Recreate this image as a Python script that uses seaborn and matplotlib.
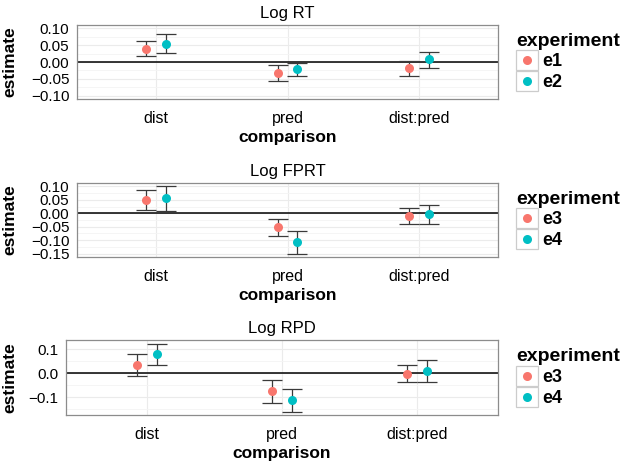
import numpy as np
import pandas as pd
import matplotlib
matplotlib.use("Agg")
import matplotlib.pyplot as plt
import seaborn as sns
from matplotlib.lines import Line2D
from matplotlib.patches import Rectangle
from matplotlib.legend_handler import HandlerBase

comparisons = ["dist", "pred", "dist:pred"]
colors = ["#F8766D", "#00BFC4"]

# Log RT (e1, e2)
rt_e1_est = [0.040, -0.034, -0.019]
rt_e1_lo = [0.017, -0.056, -0.042]
rt_e1_hi = [0.062, -0.010, 0.004]
rt_e2_est = [0.055, -0.020, 0.008]
rt_e2_lo = [0.027, -0.042, -0.017]
rt_e2_hi = [0.083, -0.002, 0.031]

# Log FPRT (e3, e4)
fprt_e3_est = [0.050, -0.052, -0.011]
fprt_e3_lo = [0.011, -0.085, -0.039]
fprt_e3_hi = [0.087, -0.020, 0.021]
fprt_e4_est = [0.055, -0.107, -0.004]
fprt_e4_lo = [0.010, -0.152, -0.039]
fprt_e4_hi = [0.102, -0.065, 0.032]

# Log RPD (e3, e4)
rpd_e3_est = [0.034, -0.074, -0.003]
rpd_e3_lo = [-0.012, -0.125, -0.037]
rpd_e3_hi = [0.081, -0.027, 0.033]
rpd_e4_est = [0.078, -0.111, 0.008]
rpd_e4_lo = [0.033, -0.160, -0.038]
rpd_e4_hi = [0.123, -0.064, 0.055]

panels = [
    ("Log RT", ["e1", "e2"],
     [(rt_e1_est, rt_e1_lo, rt_e1_hi), (rt_e2_est, rt_e2_lo, rt_e2_hi)],
     (-0.11, 0.11), [-0.10, -0.05, 0.0, 0.05, 0.10], [-0.075, -0.025, 0.025, 0.075], "%.2f"),
    ("Log FPRT", ["e3", "e4"],
     [(fprt_e3_est, fprt_e3_lo, fprt_e3_hi), (fprt_e4_est, fprt_e4_lo, fprt_e4_hi)],
     (-0.1625, 0.1125), [-0.15, -0.10, -0.05, 0.0, 0.05, 0.10], [-0.125, -0.075, -0.025, 0.025, 0.075], "%.2f"),
    ("Log RPD", ["e3", "e4"],
     [(rpd_e3_est, rpd_e3_lo, rpd_e3_hi), (rpd_e4_est, rpd_e4_lo, rpd_e4_hi)],
     (-0.174, 0.138), [-0.1, 0.0, 0.1], [-0.15, -0.05, 0.05], "%.1f"),
]

# axes boxes in figure pixels: left, top, right, bottom
W, H = 630, 462
boxes = [(77, 25, 498, 99), (77, 183, 498, 257), (66, 340, 498, 415)]

sns.set_theme(style="white")
plt.rcParams["font.family"] = ["Liberation Sans", "DejaVu Sans"]
plt.rcParams["text.color"] = "black"
plt.rcParams["axes.labelcolor"] = "black"


class KeyHandler(HandlerBase):
    def create_artists(self, legend, orig_handle, xdescent, ydescent, width, height, fontsize, trans):
        box = Rectangle((-xdescent, -ydescent - 1), width, height + 2, facecolor="white",
                        edgecolor="#CCCCCC", linewidth=0.9, transform=trans)
        dot = Line2D([-xdescent + width / 2], [-ydescent + height / 2], marker="o", linestyle="none",
                     color=orig_handle.get_color(), markersize=6.5, markeredgewidth=0, transform=trans)
        return [box, dot]


fig = plt.figure(figsize=(W / 100, H / 100), dpi=100)
dodge = 0.15

for (title, exps, series, ylim, yt, ymin, fmt), (l, t, r, b) in zip(panels, boxes):
    ax = fig.add_axes([l / W, 1 - b / H, (r - l) / W, (b - t) / H])
    rows = []
    for exp, (est, lo, hi) in zip(exps, series):
        for c, e, a, z in zip(comparisons, est, lo, hi):
            rows.append({"comparison": c, "experiment": exp, "estimate": e, "lo": a, "hi": z})
    df = pd.DataFrame(rows)

    ax.axhline(0, color="black", linewidth=1.1, zorder=2)
    offsets = np.linspace(0, dodge, len(exps)) - dodge / 2
    for k, exp in enumerate(exps):
        sub = df[df["experiment"] == exp]
        xs = np.arange(len(comparisons)) + offsets[k]
        ax.errorbar(xs, sub["estimate"], yerr=[sub["estimate"] - sub["lo"], sub["hi"] - sub["estimate"]],
                    fmt="none", ecolor="#3A3A3A", elinewidth=0.9, capsize=7, capthick=0.9, zorder=3)

    sns.pointplot(data=df, x="comparison", y="estimate", hue="experiment", order=comparisons,
                  hue_order=exps, palette=colors, dodge=dodge, linestyle="none", errorbar=None,
                  markers="o", markersize=6.5, markeredgewidth=0, ax=ax, zorder=4)

    ax.set_xlim(-0.6, 2.6)
    ax.set_ylim(*ylim)
    ax.set_yticks(yt)
    ax.set_yticklabels([(fmt % v).replace("-", "\u2212") for v in yt])
    ax.set_yticks(ymin, minor=True)
    ax.grid(True, which="major", color="#EBEBEB", linewidth=0.8)
    ax.grid(True, which="minor", axis="y", color="#F4F4F4", linewidth=0.6)
    ax.set_axisbelow(True)
    for s in ax.spines.values():
        s.set_color("#8C8C8C")
        s.set_linewidth(0.9)
    ax.tick_params(axis="both", which="major", length=3.5, width=0.8, color="#4D4D4D",
                   labelsize=11, labelcolor="black", pad=2)
    ax.tick_params(axis="x", labelsize=11.5, pad=5)
    ax.tick_params(which="minor", length=0)
    ax.set_title(title, fontsize=12, pad=5, color="black")
    ax.set_xlabel("comparison", fontsize=12.5, fontweight="bold", labelpad=3)
    ax.set_ylabel("estimate", fontsize=12.5, fontweight="bold")
    ax.yaxis.set_label_coords(-(l - 17) / (r - l), 0.5)

    handles = [Line2D([], [], color=c) for c in colors]
    ax.legend(handles, exps, handler_map={Line2D: KeyHandler()}, loc="center left",
              bbox_to_anchor=(1 + 18 / (r - l), 0.5), borderaxespad=0, borderpad=0, frameon=False,
              title="experiment", title_fontproperties={"weight": "bold", "size": 14},
              prop={"weight": "bold", "size": 13}, alignment="left", handlelength=1.2,
              handleheight=1.1, handletextpad=0.25, labelspacing=0.12)

fig.savefig("out.png", dpi=100)
